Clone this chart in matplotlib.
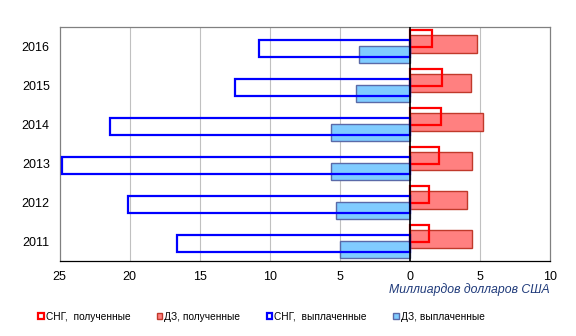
import matplotlib
matplotlib.use("Agg")
import matplotlib.pyplot as plt
from matplotlib.patches import Patch
from matplotlib.ticker import FuncFormatter

plt.rcParams["font.family"] = ["Liberation Sans", "DejaVu Sans"]

# ── Data (billions USD) ──────────────────────────────────────────────────────
years = ["2011", "2012", "2013", "2014", "2015", "2016"]
cis_received = [1.38, 1.38, 2.10, 2.24, 2.31, 1.60]
far_received = [4.40, 4.05, 4.40, 5.24, 4.33, 4.81]
cis_paid     = [16.6, 20.1, 24.8, 21.4, 12.5, 10.8]
far_paid     = [4.98, 5.24, 5.60, 5.60, 3.81, 3.62]

legend_labels = ["СНГ,  полученные", "ДЗ, полученные",
                 "СНГ,  выплаченные", "ДЗ, выплаченные"]

C = {
    "cis_rec":  "#ff0000",
    "far_rec":  "#ff8080",
    "far_rec_e": "#c0392b",
    "cis_paid": "#0000ff",
    "far_paid": "#80ccff",
    "far_paid_e": "#5a6aa8",
    "grid":     "#c0c0c0",
    "spine":    "#808080",
    "xlabel":   "#1f3a7a",
}

fig = plt.figure(figsize=(5.76, 3.36), dpi=100, facecolor="white")
ax = fig.add_axes([0.1033, 0.2232, 0.8516, 0.6964])

pos = list(range(len(years)))
h = 0.45

# filled bars first, outlines on top
ax.barh([p + 0.07 for p in pos], far_received, height=h, color=C["far_rec"],
        edgecolor=C["far_rec_e"], linewidth=1.0, zorder=2)
ax.barh([p - 0.20 for p in pos], [-v for v in far_paid], height=h,
        color=C["far_paid"], edgecolor=C["far_paid_e"], linewidth=1.0, zorder=2)
ax.barh([p + 0.21 for p in pos], cis_received, height=h, fill=False,
        edgecolor=C["cis_rec"], linewidth=1.6, zorder=3)
ax.barh([p - 0.055 for p in pos], [-v for v in cis_paid], height=h, fill=False,
        edgecolor=C["cis_paid"], linewidth=1.6, zorder=3)

ax.axvline(0, color="black", linewidth=1.2, zorder=4)

ax.set_xlim(-25, 10)
ax.set_ylim(-0.5, len(years) - 0.5)
ax.set_xticks([-25, -20, -15, -10, -5, 0, 5, 10])
ax.xaxis.set_major_formatter(FuncFormatter(lambda v, _: f"{abs(v):g}"))
ax.set_yticks(pos)
ax.set_yticklabels(years)
ax.tick_params(length=0, labelsize=9, pad=7)
ax.tick_params(axis="y", pad=7)

for gx in [-20, -15, -10, -5, 5]:
    ax.axvline(gx, color=C["grid"], linewidth=0.8, zorder=0)

for name, spine in ax.spines.items():
    spine.set_edgecolor(C["spine"])
    spine.set_linewidth(0.9)
ax.spines["bottom"].set_edgecolor("black")

ax.set_xlabel("Миллиардов долларов США", fontsize=8.8, style="italic",
              color=C["xlabel"], loc="right", labelpad=0)

handles = [
    Patch(facecolor="white", edgecolor=C["cis_rec"], linewidth=1.6),
    Patch(facecolor=C["far_rec"], edgecolor=C["far_rec_e"], linewidth=1.0),
    Patch(facecolor="white", edgecolor=C["cis_paid"], linewidth=1.6),
    Patch(facecolor=C["far_paid"], edgecolor=C["far_paid_e"], linewidth=1.0),
]
fig.legend(handles, legend_labels, loc="center left", bbox_to_anchor=(0.066, 0.058),
           ncol=4, frameon=False, fontsize=7.3, handlelength=0.55,
           handleheight=0.55, handletextpad=0.2, columnspacing=2.6,
           borderaxespad=0, borderpad=0)

fig.savefig("out.png", dpi=100)
